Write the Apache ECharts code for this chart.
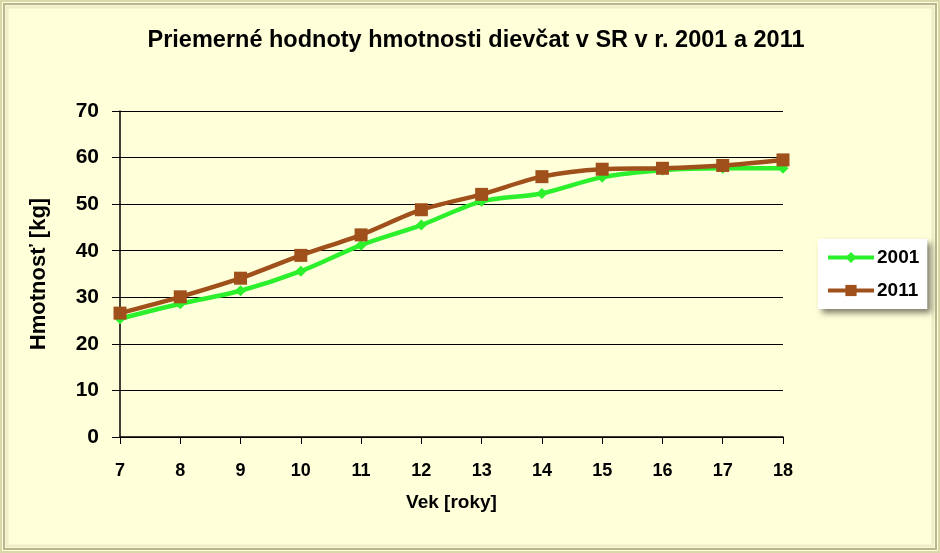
<!DOCTYPE html>
<html><head><meta charset="utf-8">
<script src="https://cdn.jsdelivr.net/npm/echarts@6/dist/echarts.min.js"></script>
<style>html,body{margin:0;padding:0;background:#fff;}#c{width:940px;height:553px;}</style>
</head><body><div id="c"></div>
<script>
const ages = ['7','8','9','10','11','12','13','14','15','16','17','18'];
const y2001 = [25.4, 28.6, 31.4, 35.6, 41.2, 45.5, 50.6, 52.3, 55.8, 57.3, 57.7, 57.7];
const y2011 = [26.6, 30.1, 34.1, 39.0, 43.4, 48.8, 52.1, 55.9, 57.5, 57.7, 58.3, 59.5];
const yTicks = [0, 10, 20, 30, 40, 50, 60, 70];

const chart = echarts.init(document.getElementById('c'));
chart.setOption({
  backgroundColor: '#FFFFDA',
  animation: false,
  graphic: [
    {type:'rect', shape:{x:1,y:1,width:938,height:551}, style:{fill:'none', stroke:'#D8D8A8', lineWidth:2}},
    {type:'rect', shape:{x:4,y:4,width:932,height:545}, style:{fill:'none', stroke:'#B8B890', lineWidth:2}},
    {type:'rect', shape:{x:7,y:7,width:926,height:539}, style:{fill:'none', stroke:'#EEEEC8', lineWidth:3}}
  ],
  title: {
    text: 'Priemerné hodnoty hmotnosti dievčat v SR v r. 2001 a 2011',
    left: 471, top: 24, textAlign: 'center',
    textStyle: {fontFamily: 'Liberation Sans', fontSize: 23.5, fontWeight: 'bold', color: '#000'}
  },
  legend: {
    orient: 'vertical', left: 818, top: 239,
    backgroundColor: '#FFFFFF', padding: [9, 8, 9, 8], itemGap: 14,
    itemWidth: 46, itemHeight: 14,
    lineStyle: {width: 4},
    shadowColor: 'rgba(0,0,0,0.5)', shadowBlur: 6, shadowOffsetX: 4, shadowOffsetY: 4,
    textStyle: {fontFamily: 'Liberation Sans', fontSize: 19, fontWeight: 'bold', color: '#000', padding:[0,0,0,-2]},
    data: ['2001', '2011']
  },
  grid: {left: 120, right: 157, top: 111, bottom: 116},
  xAxis: {
    type: 'category', data: ages, boundaryGap: false,
    name: 'Vek [roky]', nameLocation: 'middle', nameGap: 56,
    nameTextStyle: {fontFamily: 'Liberation Sans', fontSize: 19, fontWeight: 'bold', color: '#000'},
    axisLine: {lineStyle: {color: '#000', width: 1.5}},
    axisTick: {alignWithLabel: true, length: 7, lineStyle: {color: '#000'}},
    axisLabel: {fontFamily: 'Liberation Sans', fontSize: 18, fontWeight: 'bold', color: '#000', margin: 25}
  },
  yAxis: {
    type: 'value', min: yTicks[0], max: yTicks[yTicks.length-1], interval: 10,
    name: 'Hmotnosť [kg]', nameLocation: 'middle', nameGap: 70, nameRotate: 90,
    nameTextStyle: {fontFamily: 'Liberation Sans', fontSize: 22, fontWeight: 'bold', color: '#000'},
    axisLine: {show: true, lineStyle: {color: '#000', width: 1.5}},
    axisTick: {show: true, length: 8, inside: false, lineStyle: {color: '#000'}},
    splitLine: {lineStyle: {color: '#000', width: 1.2}},
    axisLabel: {fontFamily: 'Liberation Sans', fontSize: 21, fontWeight: 'bold', color: '#000', margin: 21}
  },
  series: [
    {name: '2001', type: 'line', data: y2001, smooth: 0.3,
     symbol: 'diamond', symbolSize: 11,
     lineStyle: {color: '#2BF02B', width: 4.5}, itemStyle: {color: '#2BF02B'}},
    {name: '2011', type: 'line', data: y2011, smooth: 0.3,
     symbol: 'rect', symbolSize: 13,
     lineStyle: {color: '#A0501A', width: 4.5}, itemStyle: {color: '#A0501A'}}
  ]
});
</script></body></html>
